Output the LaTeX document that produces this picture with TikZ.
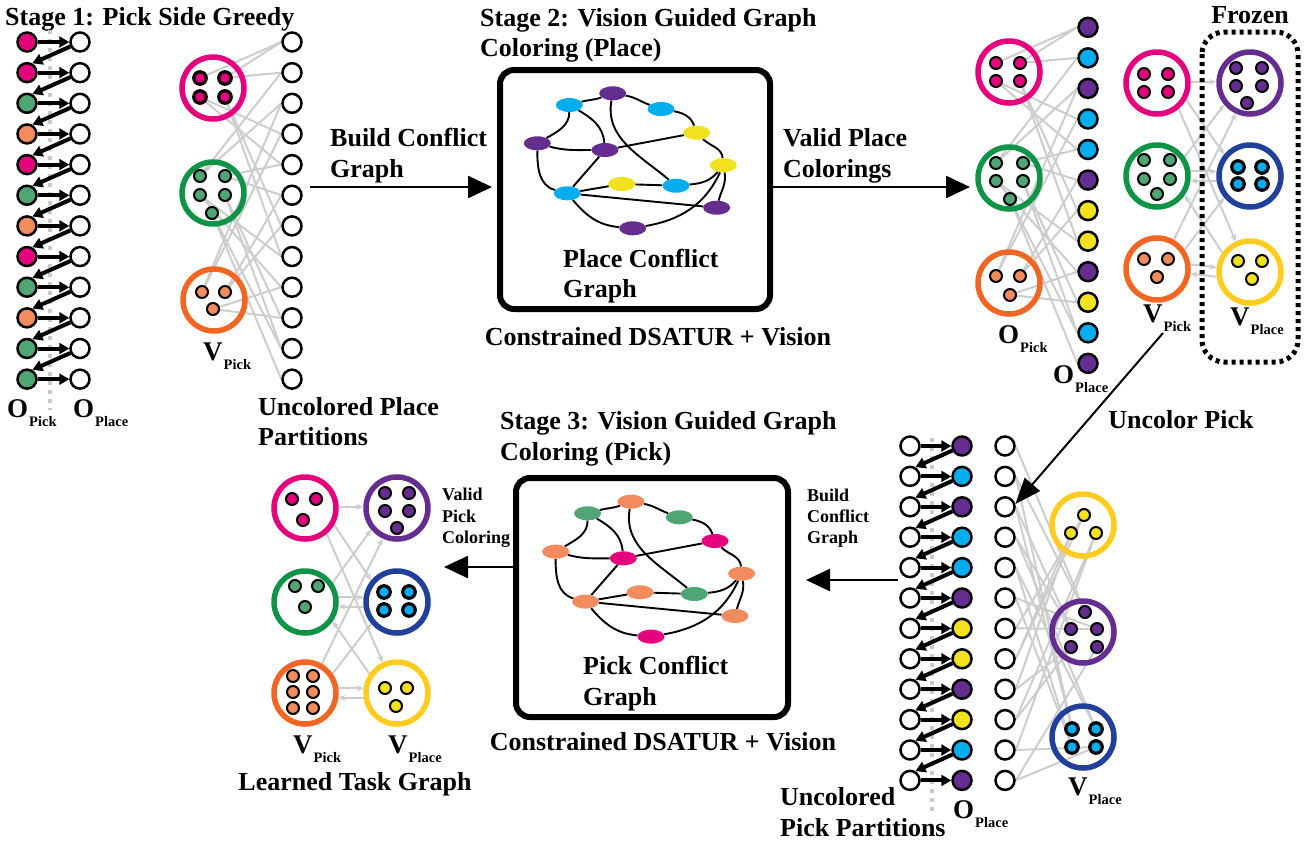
\documentclass[tikz,border=0pt]{standalone}
\usepackage{fontspec}
\setmainfont{Liberation Serif}
\usetikzlibrary{arrows.meta,shapes.geometric}
\pgfdeclarelayer{bg}
\pgfsetlayers{bg,main}

\definecolor{cMag}{HTML}{E6007E}
\definecolor{cGrnD}{HTML}{4FA574}
\definecolor{cGrnR}{HTML}{0F9347}
\definecolor{cOrD}{HTML}{F28C5E}
\definecolor{cOrR}{HTML}{F26522}
\definecolor{cPur}{HTML}{662D91}
\definecolor{cCyan}{HTML}{00AEEF}
\definecolor{cYelD}{HTML}{F2E21D}
\definecolor{cYelR}{HTML}{FFCC1F}
\definecolor{cBlue}{HTML}{21409A}
\definecolor{cGray}{HTML}{CDCDCD}
\definecolor{cTrack}{HTML}{C9C9C9}

% symbol with a lowered subscript word
\newcommand\symlab[2]{#1\kern1pt\raisebox{-9pt}{\fontsize{14.5}{14.5}\selectfont #2}}

\tikzset{
  txt/.style={font=\fontsize{26}{26}\selectfont\bfseries, inner sep=0pt, anchor=base west},
  txtc/.style={txt, anchor=base},
  stxt/.style={font=\fontsize{18}{18}\selectfont\bfseries, inner sep=0pt, anchor=base west},
  sym/.style={font=\fontsize{27}{27}\selectfont\bfseries, inner sep=0pt, anchor=base west},
  gring/.style={circle, draw=#1, line width=5.5pt, minimum size=62pt, inner sep=0pt},
  odot/.style={circle, draw=black, fill=#1, line width=2pt, minimum size=12pt, inner sep=0pt},
  tdot/.style={odot=#1, line width=3.2pt, minimum size=12.5pt},
  obj/.style={circle, draw=black, fill=#1, line width=2.5pt, minimum size=19pt, inner sep=0pt},
  obj/.default=white,
  chain/.style={line width=4pt, -{Triangle[length=10pt,width=11pt]}},
  track/.style={draw=cTrack, line width=4pt, dash pattern=on 4pt off 5pt},
  gline/.style={draw=cGray, line width=2pt},
  garr/.style={gline, -{Stealth[length=7pt,width=6pt]}},
  bigarr/.style={line width=2.5pt, -{Triangle[length=24pt,width=22pt]}},
  cnode/.style={ellipse, fill=#1, minimum width=27pt, minimum height=14pt, inner sep=0pt},
  cedge/.style={line width=1.9pt},
  stagebox/.style={draw, line width=6pt, rounded corners=14pt, minimum width=#1, minimum height=239pt, inner sep=0pt},
  frozenbox/.style={draw, line width=5pt, dash pattern=on 4pt off 4pt, rounded corners=22pt},
}

% edges of a conflict graph whose nodes are named <prefix>-1 ... <prefix>-12
\newcommand\conflictedges[1]{%
  \draw[cedge] (#1-2) to[out=15,in=200] (#1-1);
  \draw[cedge] (#1-1) to[out=-10,in=160] (#1-3);
  \draw[cedge] (#1-3) to[out=-10,in=110] (#1-4);
  \draw[cedge] (#1-2) to[out=-90,in=30] (#1-5);
  \draw[cedge] (#1-2) to[out=-30,in=95] (#1-6);
  \draw[cedge] (#1-5) to[out=-15,in=180] (#1-6);
  \draw[cedge] (#1-6) -- (#1-4);
  \draw[cedge] (#1-1) to[out=-100,in=140] (#1-10);
  \draw[cedge] (#1-5) to[out=-90,in=165] (#1-8);
  \draw[cedge] (#1-6) -- (#1-8);
  \draw[cedge] (#1-8) -- (#1-9);
  \draw[cedge] (#1-9) -- (#1-10);
  \draw[cedge] (#1-10) to[out=5,in=-130] (#1-7);
  \draw[cedge] (#1-4) to[out=-45,in=95] (#1-7);
  \draw[cedge] (#1-7) to[out=-80,in=75] (#1-11);
  \draw[cedge] (#1-8) -- (#1-11);
  \draw[cedge] (#1-8) to[out=-50,in=175] (#1-12);
  \draw[cedge] (#1-12) to[out=10,in=-115] (#1-7);
}

\begin{document}
\begin{tikzpicture}[x=1pt,y=-1pt]
\useasboundingbox (0,0) rectangle (1305,844);

%% ---------------- Stage 1: pick side greedy ----------------
\node[txt] (t1) at (5,25) {Stage 1: Pick Side Greedy};
\draw[track] (50,30) -- (50,410);
\foreach \c [count=\k] in {cMag,cMag,cGrnD,cOrD,cMag,cGrnD,cOrD,cMag,cGrnD,cOrD,cGrnD,cGrnD}{
  \node[obj=\c] (sa\k) at (27,{42+(\k-1)*30.65}) {};
  \node[obj] (sb\k) at (80,{42+(\k-1)*30.65}) {};
  \node[obj] (sc\k) at (292,{42+(\k-1)*30.65}) {};
}
\foreach \k in {1,...,12} \draw[chain] (sa\k) -- (sb\k);
\foreach \k [evaluate=\k as \n using int(\k+1)] in {1,...,11} \draw[chain] (sb\k.205) -- (sa\n.60);
\node[sym] (s1op) at (7,417) {\symlab{O}{Pick}};
\node[sym] (s1ol) at (73,417) {\symlab{O}{Place}};

% pick partitions
\node[gring=cMag] (svm) at (213,88) {};
\node[gring=cGrnR] (svg) at (213,193) {};
\node[gring=cOrR] (svo) at (214,300) {};
\node[tdot=cMag] (sd1) at (200,78) {};
\node[tdot=cMag] (sd2) at (225,78) {};
\node[tdot=cMag] (sd5) at (200,97) {};
\node[tdot=cMag] (sd8) at (225,97) {};
\node[odot=cGrnD] (sd3) at (200,176) {};
\node[odot=cGrnD] (sd6) at (225,176) {};
\node[odot=cGrnD] (sd9) at (200,195) {};
\node[odot=cGrnD] (sd11) at (225,195) {};
\node[odot=cGrnD] (sd12) at (212,213) {};
\node[odot=cOrD] (sd4) at (202,292) {};
\node[odot=cOrD] (sd7) at (225,292) {};
\node[odot=cOrD] (sd10) at (213,309) {};
\begin{pgfonlayer}{bg}
  \foreach \i in {1,...,12} \draw[gline] (sd\i.center) -- (sc\i.west);
  \foreach \i [evaluate=\i as \j using int(\i-1)] in {2,...,12} \draw[gline] (sd\i.center) -- (sc\j.west);
\end{pgfonlayer}
\node[sym] (s1vp) at (203,360) {\symlab{V}{Pick}};
\node[txt] (t1a) at (258,415) {Uncolored Place};
\node[txt] (t1b) at (258,445) {Partitions};

%% ---------------- Stage 2 ----------------
\node[txt] (t2a) at (480,26) {Stage 2: Vision Guided Graph};
\node[txt] (t2b) at (480,56) {Coloring (Place)};
\node[stagebox=270pt] (box2) at (635,189.5) {};
\foreach \px/\py/\c [count=\k] in {612.7/93.3/cPur, 569.3/105/cCyan, 661/109/cCyan, 696.7/132.7/cYelD,
   537.3/143.3/cPur, 605/150/cPur, 723.3/165.3/cYelD, 567.3/193.3/cCyan, 621.7/184/cYelD,
   676/185.7/cCyan, 716.7/207.7/cPur, 632.7/228.3/cPur}
  \node[cnode=\c] (pa-\k) at (\px,\py) {};
\begin{pgfonlayer}{bg}\conflictedges{pa}\end{pgfonlayer}
\node[txt] (t2c) at (563,267) {Place Conflict};
\node[txt] (t2d) at (563,297) {Graph};
\node[txtc] (t2e) at (658,345) {Constrained DSATUR + Vision};

\coordinate (a1) at (310,187);
\draw[bigarr, shorten >=5pt] (a1) -- (box2.west |- a1);
\node[txt] (t1c) at (330,146) {Build Conflict};
\node[txt] (t1d) at (330,177) {Graph};
\coordinate (a2) at (970,187);
\draw[bigarr] (box2.east |- a2) -- (a2);
\node[txt] (t2f) at (783,146) {Valid Place};
\node[txt] (t2g) at (783,177) {Colorings};

%% ---------------- colored place partitions ----------------
\node[gring=cMag] (tom) at (1009,72) {};
\node[gring=cGrnR] (tog) at (1009,178) {};
\node[gring=cOrR] (too) at (1009,283) {};
\node[odot=cMag] (to1) at (996,63) {};
\node[odot=cMag] (to2) at (1020,63) {};
\node[odot=cMag] (to5) at (996,81) {};
\node[odot=cMag] (to8) at (1020,81) {};
\node[odot=cGrnD] (to3) at (996,163) {};
\node[odot=cGrnD] (to6) at (1023,163) {};
\node[odot=cGrnD] (to9) at (996,181) {};
\node[odot=cGrnD] (to11) at (1023,181) {};
\node[odot=cGrnD] (to12) at (1010,199) {};
\node[odot=cOrD] (to4) at (996,276) {};
\node[odot=cOrD] (to7) at (1020,276) {};
\node[odot=cOrD] (to10) at (1010,295) {};
\foreach \c [count=\k] in {cPur,cCyan,cPur,cCyan,cCyan,cPur,cYelD,cYelD,cPur,cYelD,cCyan,cPur}
  \node[obj=\c] (tq\k) at (1088,{27.3+(\k-1)*30.55}) {};
\begin{pgfonlayer}{bg}
  \foreach \i in {1,...,12} \draw[gline] (to\i.center) -- (tq\i.west);
  \foreach \i [evaluate=\i as \j using int(\i-1)] in {2,...,12} \draw[gline] (to\i.center) -- (tq\j.west);
\end{pgfonlayer}
\node[sym] (topk) at (998,343) {\symlab{O}{Pick}};
\node[sym] (topl) at (1053,383) {\symlab{O}{Place}};

% pick groups and frozen place groups
\node[txtc] (tfz) at (1250,23) {Frozen};
\draw[frozenbox] (1202,32) rectangle (1298,362);
\node[gring=cMag] (tvm) at (1157,83) {};
\node[gring=cGrnR] (tvg) at (1157,176) {};
\node[gring=cOrR] (tvo) at (1157,269) {};
\node[gring=cPur] (tvp) at (1250,83) {};
\node[gring=cBlue] (tvb) at (1250,176) {};
\node[gring=cYelR] (tvy) at (1250,272) {};
\foreach \p in {(1144,74),(1168,74),(1144,92),(1168,92)} \node[odot=cMag] at \p {};
\foreach \p in {(1144,160),(1170,160),(1144,179),(1170,179),(1157,194)} \node[odot=cGrnD] at \p {};
\foreach \p in {(1144,259),(1168,259),(1157,277)} \node[odot=cOrD] at \p {};
\foreach \p in {(1236,68),(1262,68),(1236,86),(1262,86),(1247,103)} \node[odot=cPur] at \p {};
\foreach \p in {(1238,167),(1262,167),(1238,184),(1262,184)} \node[tdot=cCyan] at \p {};
\foreach \p in {(1238,261),(1262,261),(1252,279)} \node[odot=cYelD] at \p {};
\begin{pgfonlayer}{bg}
  \draw[garr] (tvm.2) -- (tvp.178);
  \draw[garr] (tvm.-30) -- (tvb.140);
  \draw[garr] (tvm.-50) -- (tvy.115);
  \draw[garr] (tvg.8) -- (tvb.172);
  \draw[garr] (tvb.188) -- (tvg.-8);
  \draw[garr] (tvg.35) -- (tvp.-140);
  \draw[garr] (tvo.60) -- (tvp.-115);
  \draw[garr] (tvo.35) -- (tvb.-140);
  \draw[garr] (tvo.8) -- (tvy.172);
  \draw[garr] (tvy.188) -- (tvo.-8);
  \draw[garr] (tvy.145) -- (tvg.-35);
\end{pgfonlayer}
\node[sym] (tvpk) at (1143,322) {\symlab{V}{Pick}};
\node[sym] (tvpl) at (1230,325) {\symlab{V}{Place}};

%% ---------------- uncolor pick ----------------
\coordinate (uc) at (1163,333);
\node[txtc] (tuc) at (1181,428) {Uncolor Pick};

\draw[track] (932,438) -- (932,812);
\foreach \c [count=\k] in {cPur,cCyan,cPur,cCyan,cCyan,cPur,cYelD,cYelD,cPur,cYelD,cCyan,cPur}{
  \node[obj] (ba\k) at (910,{446+(\k-1)*30.4}) {};
  \node[obj=\c] (bb\k) at (962,{446+(\k-1)*30.4}) {};
  \node[obj] (bc\k) at (1005,{446+(\k-1)*30.4}) {};
}
\foreach \k in {1,...,12} \draw[chain] (ba\k) -- (bb\k);
\foreach \k [evaluate=\k as \n using int(\k+1)] in {1,...,11} \draw[chain] (bb\k.205) -- (ba\n.60);
\draw[line width=2pt, -{Triangle[length=26pt,width=20pt]}] (uc) -- (bc3.15);

\node[gring=cYelR] (bvy) at (1083,525) {};
\node[gring=cPur] (bvp) at (1083,632) {};
\node[gring=cBlue] (bvb) at (1083,737) {};
\node[odot=cYelD] (bd7) at (1084,515) {};
\node[odot=cYelD] (bd8) at (1071,533) {};
\node[odot=cYelD] (bd10) at (1096,533) {};
\node[odot=cPur] (bd1) at (1085,612) {};
\node[odot=cPur] (bd3) at (1071,629) {};
\node[odot=cPur] (bd6) at (1097,629) {};
\node[odot=cPur] (bd9) at (1071,647) {};
\node[odot=cPur] (bd12) at (1097,647) {};
\node[tdot=cCyan] (bd2) at (1072,729) {};
\node[tdot=cCyan] (bd4) at (1096,729) {};
\node[tdot=cCyan] (bd5) at (1072,747) {};
\node[tdot=cCyan] (bd11) at (1096,747) {};
\begin{pgfonlayer}{bg}
  \foreach \i in {1,...,12} \draw[gline] (bd\i.center) -- (bc\i.east);
  \foreach \i [evaluate=\i as \j using int(\i+1)] in {1,...,11} \draw[gline] (bd\i.center) -- (bc\j.east);
\end{pgfonlayer}
\node[sym] (bvpl) at (1068,795) {\symlab{V}{Place}};
\node[sym] (bopl) at (953,818) {\symlab{O}{Place}};
\node[txt] (t3u) at (780,805) {Uncolored};
\node[txt] (t3v) at (780,836) {Pick Partitions};

%% ---------------- Stage 3 ----------------
\node[txt] (t3a) at (500,429) {Stage 3: Vision Guided Graph};
\node[txt] (t3b) at (500,460) {Coloring (Pick)};
\node[stagebox=272pt] (box3) at (652,597.5) {};
\begin{scope}[shift={(18.3,408.3)}]
\foreach \px/\py/\c [count=\k] in {612.7/93.3/cOrD, 569.3/105/cGrnD, 661/109/cGrnD, 696.7/132.7/cMag,
   537.3/143.3/cOrD, 605/150/cMag, 723.3/165.3/cOrD, 567.3/193.3/cOrD, 621.7/184/cOrD,
   676/185.7/cGrnD, 716.7/207.7/cOrD, 632.7/228.3/cMag}
  \node[cnode=\c] (pb-\k) at (\px,\py) {};
\end{scope}
\begin{pgfonlayer}{bg}\conflictedges{pb}\end{pgfonlayer}
\node[txt] (t3c) at (583,674) {Pick Conflict};
\node[txt] (t3d) at (583,705) {Graph};
\node[txtc] (t3e) at (663,750) {Constrained DSATUR + Vision};

\coordinate (a3) at (898,580);
\draw[bigarr, shorten >=15pt] (a3) -- (box3.east |- a3);
\node[stxt] (t3f) at (807,501) {Build};
\node[stxt] (t3g) at (807,522) {Conflict};
\node[stxt] (t3h) at (807,543) {Graph};
\coordinate (a4) at (444,567);
\draw[bigarr] (box3.west |- a4) -- (a4);
\node[stxt] (t3i) at (442,500) {Valid};
\node[stxt] (t3j) at (442,522) {Pick};
\node[stxt] (t3k) at (442,543) {Coloring};

%% ---------------- learned task graph ----------------
\node[gring=cMag] (lvm) at (305,508) {};
\node[gring=cGrnR] (lvg) at (305,602) {};
\node[gring=cOrR] (lvo) at (305,693) {};
\node[gring=cPur] (lvp) at (397,508) {};
\node[gring=cBlue] (lvb) at (397,602) {};
\node[gring=cYelR] (lvy) at (397,693) {};
\foreach \p in {(292,499),(316,499),(303,520)} \node[odot=cMag] at \p {};
\foreach \p in {(295,586),(318,586),(305,607)} \node[odot=cGrnD] at \p {};
\foreach \p in {(293,676),(313,676),(293,692),(313,692),(293,708),(313,708)} \node[odot=cOrD] at \p {};
\foreach \p in {(385,493),(409,493),(385,511),(409,511),(397,528)} \node[odot=cPur] at \p {};
\foreach \p in {(384,592),(409,592),(384,610),(409,610)} \node[tdot=cCyan] at \p {};
\foreach \p in {(385,688),(407,688),(396,706)} \node[odot=cYelD] at \p {};
\begin{pgfonlayer}{bg}
  \draw[garr] (lvm.2) -- (lvp.178);
  \draw[garr] (lvm.-30) -- (lvb.140);
  \draw[garr] (lvm.-50) -- (lvy.115);
  \draw[garr] (lvg.8) -- (lvb.172);
  \draw[garr] (lvb.188) -- (lvg.-8);
  \draw[garr] (lvg.35) -- (lvp.-140);
  \draw[garr] (lvo.60) -- (lvp.-115);
  \draw[garr] (lvo.35) -- (lvb.-140);
  \draw[garr] (lvo.8) -- (lvy.172);
  \draw[garr] (lvy.188) -- (lvo.-8);
  \draw[garr] (lvy.145) -- (lvg.-35);
\end{pgfonlayer}
\node[sym] (lvpk) at (293,753) {\symlab{V}{Pick}};
\node[sym] (lvpl) at (388,753) {\symlab{V}{Place}};
\node[txtc] (tltg) at (355,790) {Learned Task Graph};
\end{tikzpicture}
\end{document}
